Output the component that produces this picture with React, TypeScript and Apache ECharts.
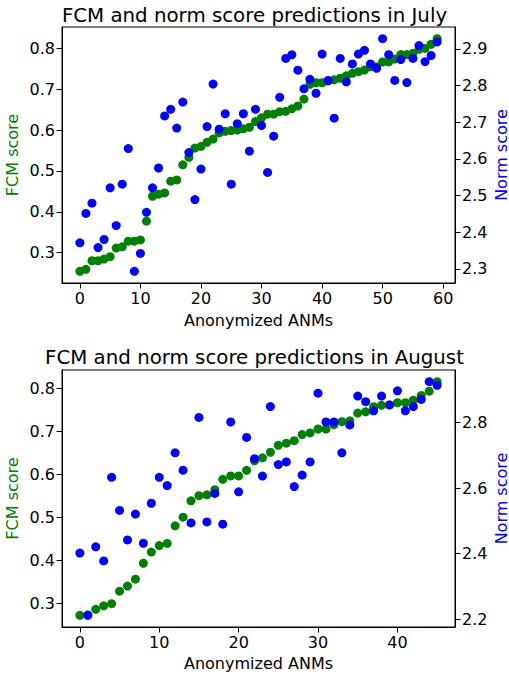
import React, { useEffect, useRef } from "react";
import * as echarts from "echarts";

const julyX = Array.from({ length: 60 }, (_, i) => i);
const julyFcm = [0.254,0.259,0.280,0.280,0.284,0.290,0.311,0.314,0.328,0.328,0.331,0.377,0.438,0.443,0.446,0.475,0.478,0.515,0.533,0.556,0.560,0.570,0.578,0.593,0.597,0.599,0.600,0.603,0.607,0.621,0.630,0.639,0.639,0.645,0.646,0.652,0.659,0.676,0.712,0.716,0.716,0.720,0.723,0.727,0.733,0.739,0.743,0.747,0.755,0.755,0.767,0.767,0.774,0.785,0.785,0.788,0.798,0.800,0.810,0.824];
const julyNorm = [2.371,2.451,2.479,2.358,2.380,2.521,2.418,2.531,2.628,2.293,2.342,2.454,2.521,2.575,2.717,2.735,2.684,2.755,2.617,2.489,2.572,2.688,2.804,2.681,2.723,2.531,2.696,2.723,2.621,2.735,2.691,2.563,2.662,2.768,2.874,2.884,2.842,2.791,2.817,2.779,2.886,2.814,2.711,2.874,2.810,2.859,2.886,2.896,2.859,2.847,2.928,2.884,2.814,2.871,2.808,2.874,2.909,2.865,2.882,2.919];

const augX = Array.from({ length: 46 }, (_, i) => i);
const augFcm = [0.273,0.274,0.287,0.295,0.300,0.329,0.341,0.357,0.394,0.420,0.435,0.440,0.481,0.501,0.539,0.551,0.553,0.565,0.589,0.597,0.597,0.610,0.632,0.639,0.652,0.668,0.673,0.679,0.693,0.697,0.706,0.706,0.716,0.723,0.725,0.743,0.746,0.758,0.761,0.762,0.767,0.767,0.773,0.784,0.794,0.816];
const augNorm = [2.402,2.212,2.421,2.378,2.633,2.532,2.442,2.521,2.432,2.554,2.633,2.608,2.708,2.655,2.494,2.816,2.497,2.584,2.490,2.802,2.589,2.755,2.690,2.637,2.849,2.672,2.680,2.605,2.640,2.680,2.890,2.802,2.802,2.708,2.793,2.881,2.864,2.836,2.881,2.854,2.897,2.836,2.849,2.871,2.925,2.914];

const julyXTicks = [0, 10, 20, 30, 40, 50, 60];
const augXTicks = [0, 10, 20, 30, 40];
const fcmTicks = [0.3, 0.4, 0.5, 0.6, 0.7, 0.8];
const julyNormTicks = [2.3, 2.4, 2.5, 2.6, 2.7, 2.8, 2.9];
const augNormTicks = [2.2, 2.4, 2.6, 2.8];

const titles = ["FCM and norm score predictions in July", "FCM and norm score predictions in August"];

const FONT = "DejaVu Sans";
const FS = 16;

function range(vals: number[]) {
  const lo = Math.min(...vals);
  const hi = Math.max(...vals);
  const m = (hi - lo) * 0.05;
  return { min: lo - m, max: hi + m };
}

function xAxis(grid: number, xs: number[], ticks: number[], gap: number) {
  const r = range(xs);
  return {
    type: "value",
    gridIndex: grid,
    min: r.min,
    max: r.max,
    name: "Anonymized ANMs",
    nameLocation: "middle",
    nameGap: gap,
    nameMoveOverlap: false,
    nameTextStyle: { fontSize: FS, color: "#000", fontFamily: FONT },
    axisLine: { show: true, lineStyle: { color: "#000", width: 1 } },
    axisTick: { show: true, customValues: ticks, length: 5.5, lineStyle: { color: "#000" } },
    axisLabel: { customValues: ticks, fontSize: FS, color: "#000", fontFamily: FONT, margin: 7, formatter: (v: number) => String(v) },
    splitLine: { show: false },
  };
}

function yAxis(grid: number, vals: number[], ticks: number[], name: string, color: string, pos: string, gap: number) {
  const r = range(vals);
  return {
    type: "value",
    gridIndex: grid,
    position: pos,
    min: r.min,
    max: r.max,
    name,
    nameLocation: "middle",
    nameGap: gap,
    nameMoveOverlap: false,
    nameTextStyle: { fontSize: FS, color, fontFamily: FONT },
    axisLine: { show: true, onZero: false, lineStyle: { color: "#000", width: 1 } },
    axisTick: { show: true, customValues: ticks, length: 5.5, lineStyle: { color: "#000" } },
    axisLabel: { customValues: ticks, fontSize: FS, color: "#000", fontFamily: FONT, margin: 7, formatter: (v: number) => v.toFixed(1) },
    splitLine: { show: false },
  };
}

export default function App() {
  const ref = useRef<HTMLDivElement>(null);
  useEffect(() => {
    document.body.style.margin = "0";
    const chart = echarts.init(ref.current!, null, { renderer: "svg" });
    const pair = (xs: number[], ys: number[]) => xs.map((x, i) => [x, ys[i]]);
    const dot = (color: string) => ({ color, opacity: 1 });
    const titleStyle = { fontSize: 19.8, fontWeight: "normal", color: "#000", fontFamily: FONT };
    chart.setOption({
      animation: false,
      backgroundColor: "#fff",
      title: [
        { text: titles[0], left: "center", top: 0, padding: [5, 0, 5, 8], textStyle: titleStyle },
        { text: titles[1], left: "center", top: 342, padding: [5, 0, 5, 8], textStyle: titleStyle },
      ],
      grid: [
        { left: 62, top: 27, width: 393, height: 256, show: true, borderColor: "#000", borderWidth: 1, backgroundColor: "transparent", containLabel: false, outerBoundsMode: "none" },
        { left: 62, top: 370, width: 393, height: 257, show: true, borderColor: "#000", borderWidth: 1, backgroundColor: "transparent", containLabel: false, outerBoundsMode: "none" },
      ],
      xAxis: [xAxis(0, julyX, julyXTicks, 29), xAxis(1, augX, augXTicks, 28)],
      yAxis: [
        yAxis(0, julyFcm, fcmTicks, "FCM score", "green", "left", 42),
        yAxis(0, julyNorm, julyNormTicks, "Norm score", "blue", "right", 38),
        yAxis(1, augFcm, fcmTicks, "FCM score", "green", "left", 42),
        yAxis(1, augNorm, augNormTicks, "Norm score", "blue", "right", 38),
      ],
      series: [
        { type: "scatter", xAxisIndex: 0, yAxisIndex: 0, data: pair(julyX, julyFcm), symbolSize: 9, itemStyle: dot("green") },
        { type: "scatter", xAxisIndex: 0, yAxisIndex: 1, data: pair(julyX, julyNorm), symbolSize: 9, itemStyle: dot("blue") },
        { type: "scatter", xAxisIndex: 1, yAxisIndex: 2, data: pair(augX, augFcm), symbolSize: 9, itemStyle: dot("green") },
        { type: "scatter", xAxisIndex: 1, yAxisIndex: 3, data: pair(augX, augNorm), symbolSize: 9, itemStyle: dot("blue") },
      ],
    });
    return () => chart.dispose();
  }, []);
  return <div ref={ref} style={{ width: 509, height: 677 }} />;
}
